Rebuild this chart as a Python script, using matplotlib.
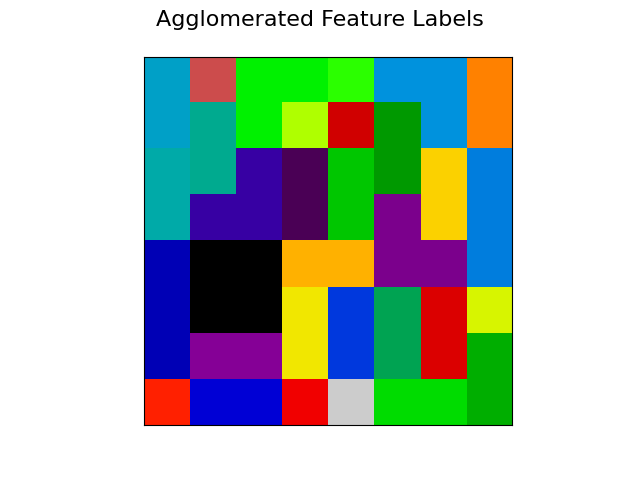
import numpy as np
import matplotlib
matplotlib.use("Agg")
import matplotlib.pyplot as plt

# cluster label of each pixel of the 8x8 image (32 clusters)
labels = np.array([
    [10, 30, 18, 18, 19, 9, 9, 25],
    [10, 12, 18, 20, 29, 14, 9, 25],
    [11, 12, 4, 1, 16, 14, 23, 8],
    [11, 4, 4, 1, 16, 2, 23, 8],
    [5, 0, 0, 24, 24, 2, 2, 8],
    [5, 0, 0, 22, 7, 13, 28, 21],
    [5, 3, 3, 22, 7, 13, 28, 15],
    [26, 6, 6, 27, 31, 17, 17, 15],
])

fig = plt.figure(figsize=(6.4, 4.78), dpi=100)
plt.imshow(labels, interpolation="nearest", cmap=plt.cm.nipy_spectral)
plt.xticks(())
plt.yticks(())
plt.suptitle("Agglomerated Feature Labels", fontsize=16)
plt.savefig("out.png")
